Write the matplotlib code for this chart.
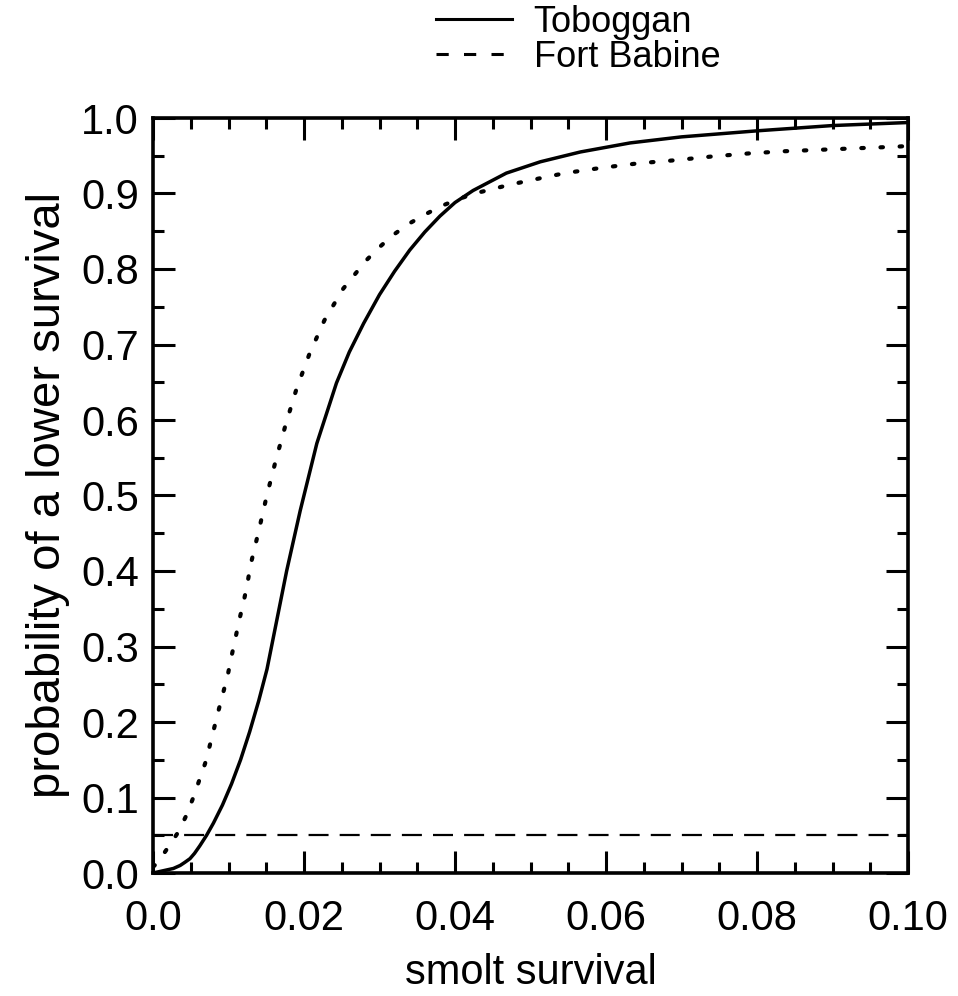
import numpy as np
import matplotlib.pyplot as plt
from matplotlib.lines import Line2D

plt.rcParams['font.family'] = ['Liberation Sans', 'DejaVu Sans']

# Toboggan (solid)
tob_x = [0, 0.0009, 0.0027, 0.0036, 0.0042, 0.0049, 0.0055, 0.0062, 0.0071, 0.0080,
         0.0092, 0.0104, 0.0116, 0.0128, 0.0140, 0.0151, 0.0164, 0.0177, 0.0195,
         0.0217, 0.0243, 0.0260, 0.0279, 0.0300, 0.0320, 0.0340, 0.0360, 0.0380,
         0.0400, 0.0424, 0.0468, 0.0513, 0.0566, 0.0632, 0.0700, 0.0800, 0.0900,
         0.1000]
tob_y = [0, 0.002, 0.006, 0.010, 0.014, 0.019, 0.026, 0.036, 0.050, 0.066,
         0.090, 0.118, 0.150, 0.187, 0.228, 0.270, 0.335, 0.400, 0.480,
         0.569, 0.649, 0.690, 0.728, 0.766, 0.797, 0.825, 0.849, 0.870,
         0.888, 0.904, 0.927, 0.942, 0.955, 0.967, 0.975, 0.983, 0.990,
         0.994]

# Fort Babine (dotted)
fb_x = [0, 0.0007, 0.0020, 0.0034, 0.0044, 0.0053, 0.0061, 0.0069, 0.0075, 0.0081,
        0.0087, 0.0093, 0.0099, 0.0104, 0.0109, 0.0114, 0.0120, 0.0125, 0.0129,
        0.0140, 0.0151, 0.0163, 0.0176, 0.0190, 0.0207, 0.0227, 0.0252, 0.0282,
        0.0300, 0.0318, 0.0339, 0.0360, 0.0381, 0.0403, 0.0426, 0.0450, 0.0474,
        0.0498, 0.0521, 0.0546, 0.0594, 0.0643, 0.0691, 0.0740, 0.0788, 0.0837,
        0.0886, 0.0934, 0.0985, 0.1000]
fb_y = [0.008, 0.015, 0.034, 0.055, 0.076, 0.099, 0.122, 0.145, 0.168, 0.192,
        0.216, 0.239, 0.262, 0.287, 0.310, 0.334, 0.359, 0.383, 0.407,
        0.453, 0.501, 0.548, 0.595, 0.641, 0.687, 0.732, 0.774, 0.811,
        0.829, 0.845, 0.860, 0.872, 0.883, 0.892, 0.900, 0.906, 0.912,
        0.917, 0.922, 0.927, 0.934, 0.940, 0.944, 0.949, 0.953, 0.956,
        0.958, 0.960, 0.962, 0.963]

threshold = 0.05
names = ['Toboggan', 'Fort Babine']
xticks = [0.0, 0.02, 0.04, 0.06, 0.08, 0.10]
xticklabels = ['0.0', '0.02', '0.04', '0.06', '0.08', '0.10']
yticks = [0.0, 0.1, 0.2, 0.3, 0.4, 0.5, 0.6, 0.7, 0.8, 0.9, 1.0]

fig = plt.figure(figsize=(9.58, 9.96), dpi=100)
ax = fig.add_axes([153/958, 123/996, 755/958, 755/996])

ax.plot(tob_x, tob_y, color='k', lw=2.5, solid_joinstyle='round')
ax.plot(fb_x, fb_y, color='k', lw=3.0, dashes=(0.6, 4.0), dash_capstyle='round')
ax.axhline(threshold, color='k', lw=1.6, dashes=(9, 5))

ax.set_xlim(0, 0.1)
ax.set_ylim(0, 1.0)
ax.set_xticks(xticks)
ax.set_xticklabels(xticklabels)
ax.set_xticks(np.arange(0, 0.1001, 0.005), minor=True)
ax.set_yticks(yticks)
ax.set_yticklabels(['%.1f' % v for v in yticks])
ax.set_yticks(np.arange(0, 1.001, 0.05), minor=True)

ax.tick_params(which='both', direction='in', top=True, right=True, width=2.2, labelsize=30)
ax.tick_params(which='major', length=16)
ax.tick_params(which='minor', length=8)
ax.tick_params(axis='x', which='both', pad=19)
ax.tick_params(axis='y', which='both', pad=10)
for s in ax.spines.values():
    s.set_linewidth(2.6)

ax.set_xlabel('smolt survival', fontsize=30, labelpad=10)
ax.set_ylabel('probability of a lower survival', fontsize=34, labelpad=8)

handles = [Line2D([], [], color='k', lw=2.2),
           Line2D([], [], color='k', lw=2.2, dashes=(4, 5))]
fig.legend(handles, names, loc='upper left', bbox_to_anchor=(436/958, 1 - 5/996),
           frameon=False, fontsize=26, handlelength=2.1, handletextpad=0.6,
           labelspacing=0.0, borderpad=0, borderaxespad=0)

plt.savefig('out.png', dpi=100)
